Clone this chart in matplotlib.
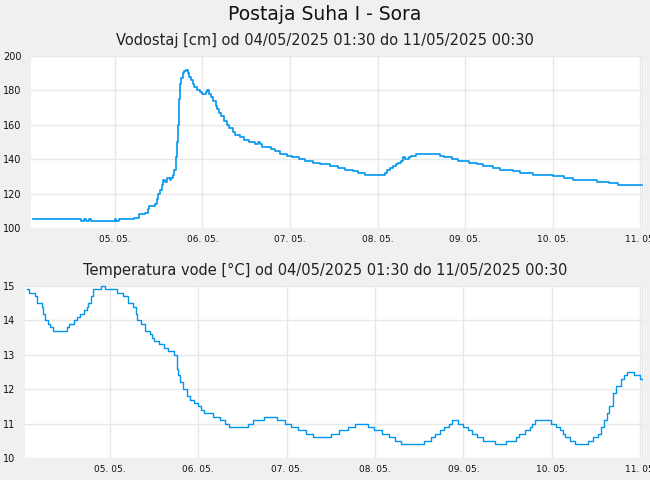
import numpy as np
import pandas as pd
import matplotlib
matplotlib.use("Agg")
import matplotlib.pyplot as plt
import matplotlib.dates as mdates

# hours since 04/05/2025 00:00 and readings
level_h = [1.5, 14.8, 15.4, 16.0, 17.0, 17.5, 24.0, 24.4, 25.0, 29.3, 30.5, 32.2, 33.0, 33.4,
           35.0, 35.4, 35.8, 36.4, 36.9, 37.3, 37.8, 38.2, 39.2, 39.5, 39.9, 40.3, 40.7, 41.0,
           41.3, 41.6, 41.9, 42.2, 42.6, 43.0, 43.4, 43.9, 44.4, 44.8, 45.3, 45.8, 46.5, 47.4,
           48.0, 48.9, 49.3, 49.8, 50.3, 51.0, 51.6, 52.0, 52.6, 53.2, 53.8, 54.6, 55.3, 56.3,
           57.0, 58.2, 59.4, 60.8, 62.5, 63.2, 63.8, 64.4, 66.8, 67.8, 69.2, 71.2, 72.6, 74.4,
           76.2, 78.4, 80.3, 83.0, 85.0, 87.0, 89.2, 90.6, 92.5, 98.0, 98.6, 99.4, 100.3, 101.0,
           101.6, 102.3, 103.0, 103.6, 104.5, 105.2, 106.4, 113.0, 114.2, 116.5, 118.0, 121.0,
           123.2, 125.0, 127.5, 129.6, 133.0, 135.0, 138.5, 144.0, 147.0, 149.5, 153.0, 156.0,
           159.5, 162.0, 168.5]
level_cm = [105, 104, 105, 104, 105, 104, 105, 104, 105, 106, 108, 109, 111, 113,
            114, 117, 120, 122, 125, 128, 127, 129, 128, 129, 131, 134, 141, 150,
            160, 175, 184, 187, 190, 191, 192, 190, 188, 186, 184, 182, 180, 179,
            178, 179, 180, 178, 176, 174, 171, 169, 167, 165, 162, 160, 158, 156,
            154, 153, 151, 150, 149, 150, 149, 147, 146, 145, 143, 142, 141, 140,
            139, 138, 137, 136, 135, 134, 133, 132, 131, 132, 134, 135, 136, 137,
            138, 139, 141, 140, 141, 142, 143, 142, 141, 140, 139, 138,
            137, 136, 135, 134, 133, 132, 131, 130, 129, 128, 128, 127,
            126, 125, 125]

temp_h = [1.5, 2.2, 3.6, 4.3, 5.5, 5.8, 6.5, 7.2, 7.7, 8.6, 12.5, 12.9, 14.2, 15.0, 16.0,
          17.0, 17.8, 18.2, 18.8, 19.5, 21.5, 22.6, 26.0, 27.6, 29.0, 30.2, 31.0, 31.5, 32.6,
          33.6, 34.8, 35.5, 36.0, 37.4, 38.6, 39.8, 41.5, 42.2, 42.5, 43.2, 43.9, 45.1, 45.8,
          46.8, 48.0, 48.7, 49.7, 52.0, 54.0, 55.2, 56.4, 61.4, 62.9, 66.0, 69.4, 71.5, 73.2,
          75.0, 77.3, 79.2, 84.0, 86.2, 88.6, 90.5, 94.0, 95.8, 97.9, 99.8, 101.5, 103.0,
          109.4, 111.1, 112.3, 113.7, 114.7, 116.2, 116.9, 118.6, 120.0, 121.2, 122.4, 123.8,
          125.3, 128.5, 131.5, 134.2, 135.0, 136.8, 138.0, 138.7, 139.4, 143.8, 145.2, 146.2,
          147.0, 147.6, 148.8, 150.2, 153.7, 155.2, 156.5, 157.4, 158.2, 158.9, 159.6, 160.6,
          161.5, 162.8, 163.6, 164.4, 166.2, 167.8, 168.5]
temp_c = [14.9, 14.8, 14.7, 14.5, 14.4, 14.2, 14.0, 13.9, 13.8, 13.7, 13.8, 13.9, 14.0, 14.1, 14.2,
          14.3, 14.4, 14.5, 14.7, 14.9, 15.0, 14.9, 14.8, 14.7, 14.5, 14.4, 14.2, 14.0, 13.9,
          13.7, 13.6, 13.5, 13.4, 13.3, 13.2, 13.1, 13.0, 12.6, 12.4, 12.2, 12.0, 11.8, 11.7,
          11.6, 11.5, 11.4, 11.3, 11.2, 11.1, 11.0, 10.9, 11.0, 11.1, 11.2, 11.1, 11.0, 10.9,
          10.8, 10.7, 10.6, 10.7, 10.8, 10.9, 11.0, 10.9, 10.8, 10.7, 10.6, 10.5, 10.4,
          10.5, 10.6, 10.7, 10.8, 10.9, 11.0, 11.1, 11.0, 10.9, 10.8, 10.7, 10.6,
          10.5, 10.4, 10.5, 10.6, 10.7, 10.8, 10.9, 11.0, 11.1, 11.0, 10.9, 10.8,
          10.7, 10.6, 10.5, 10.4, 10.5, 10.6, 10.7, 10.9, 11.1, 11.3, 11.5, 11.9,
          12.1, 12.3, 12.4, 12.5, 12.4, 12.3, 12.3]

title = "Postaja Suha I - Sora"
sub_level = "Vodostaj [cm] od 04/05/2025 01:30 do 11/05/2025 00:30"
sub_temp = "Temperatura vode [°C] od 04/05/2025 01:30 do 11/05/2025 00:30"

base = pd.Timestamp("2025-05-04 00:00")
t_level = base + pd.to_timedelta(level_h, unit="h")
t_temp = base + pd.to_timedelta(temp_h, unit="h")
x0 = base + pd.Timedelta(hours=1)
x1 = base + pd.Timedelta(hours=169)
t_end = base + pd.Timedelta(hours=168.5)

BG = "#f0f0f0"
LINE = "#0096f0"
GRID = "#e8e8e8"

fig = plt.figure(figsize=(6.5, 4.8), dpi=100, facecolor=BG)

fig.text(0.5, 1 - 14 / 480, title, ha="center", va="center", fontsize=13.5, color="#111111")
fig.text(0.5, 1 - 40 / 480, sub_level, ha="center", va="center", fontsize=10.5, color="#222222")
fig.text(0.5, 1 - 270 / 480, sub_temp, ha="center", va="center", fontsize=10.5, color="#222222")


def style(ax, ylim, yticks):
    ax.set_facecolor("white")
    for s in ax.spines.values():
        s.set_visible(False)
    ax.set_xlim(x0, x1)
    ax.set_ylim(*ylim)
    ax.set_yticks(yticks)
    ax.xaxis.set_major_locator(mdates.DayLocator())
    ax.xaxis.set_major_formatter(mdates.DateFormatter("%d. %m."))
    ax.tick_params(axis="y", length=0, pad=7, labelsize=7, labelcolor="#111111")
    ax.tick_params(axis="x", length=0, pad=5, labelsize=6.5, labelcolor="#111111")
    ax.grid(True, color=GRID, linewidth=1.0)
    ax.axvline(t_end, color=GRID, linewidth=1.0, zorder=0.5)
    ax.set_axisbelow(True)


ax1 = fig.add_axes([31 / 650, 1 - 228 / 480, 613 / 650, 172 / 480])
style(ax1, (100, 200), [100, 120, 140, 160, 180, 200])
ax1.plot(t_level, level_cm, drawstyle="steps-post", color=LINE, linewidth=1.2, clip_on=False)

ax2 = fig.add_axes([25 / 650, 1 - 458 / 480, 619 / 650, 172 / 480])
style(ax2, (10, 15), [10, 11, 12, 13, 14, 15])
ax2.plot(t_temp, temp_c, drawstyle="steps-post", color=LINE, linewidth=1.0, clip_on=False)

fig.savefig("out.png", dpi=100, facecolor=BG)
